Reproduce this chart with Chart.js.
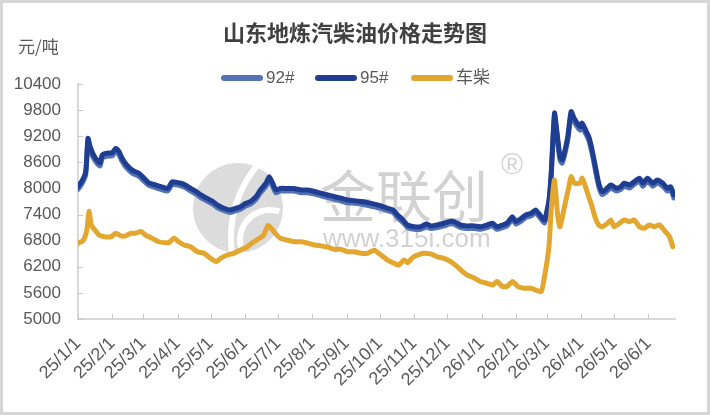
<!DOCTYPE html>
<html><head><meta charset="utf-8">
<script src="https://cdn.jsdelivr.net/npm/chart.js@4"></script>
<style>html,body{margin:0;padding:0;background:#fff;overflow:hidden}#wrap{width:710px;height:415px;position:relative}</style>
</head><body><div id="wrap"><canvas id="c" width="710" height="415"></canvas></div>
<script>
const chartTitle = '山东地炼汽柴油价格走势图';
const unitLabel = '元/吨';
const seriesNames = ['92#', '95#', '车柴'];
const tickLabels = ['25/1/1','25/2/1','25/3/1','25/4/1','25/5/1','25/6/1','25/7/1','25/8/1','25/9/1','25/10/1','25/11/1','25/12/1','26/1/1','26/2/1','26/3/1','26/4/1','26/5/1','26/6/1'];
const yTicks = [5000, 5600, 6200, 6800, 7400, 8000, 8600, 9200, 9800, 10400];

// day offsets from 2025-01-01
const gasDays = [0,4,7,9,11,14,18,20,22,26,31,34,37,40,44,49,55,60,64,70,75,81,85,87,93,97,102,107,111,117,122,126,132,138,143,147,152,156,161,165,170,173,176,179,183,189,195,202,208,214,220,226,232,238,244,250,256,262,268,274,280,285,289,294,298,304,310,315,319,325,331,336,340,346,352,358,364,370,375,379,384,388,393,396,401,405,410,414,419,422,426,428,431,433,436,438,443,446,449,454,456,459,462,465,468,471,474,477,482,487,491,494,499,503,508,511,515,520,524,529,533,536,539];
const gas95 = [8040,8190,8390,9150,8960,8770,8620,8590,8770,8810,8820,8920,8850,8690,8540,8420,8350,8230,8130,8080,8040,8000,8150,8150,8120,8080,8000,7930,7850,7770,7700,7620,7545,7505,7545,7580,7660,7700,7810,7965,8120,8270,8120,7965,8000,8000,8000,7965,7965,7930,7890,7850,7810,7775,7735,7720,7700,7675,7640,7600,7545,7505,7390,7275,7160,7120,7120,7185,7140,7160,7200,7240,7240,7160,7140,7140,7120,7160,7200,7120,7160,7200,7350,7240,7315,7390,7430,7505,7350,7275,7735,8350,9730,9345,8730,8655,9190,9765,9600,9420,9500,9345,9190,8885,8500,8120,7930,7965,8080,8005,8040,8120,8080,8155,8235,8120,8235,8120,8195,8120,8005,8040,7850];
const gas92 = [7980,8130,8320,9060,8880,8700,8550,8520,8700,8740,8750,8850,8780,8620,8470,8350,8280,8160,8070,8020,7980,7940,8090,8090,8060,8020,7940,7870,7790,7710,7640,7560,7490,7450,7490,7520,7600,7640,7750,7900,8050,8190,8050,7900,7940,7940,7940,7900,7900,7870,7830,7790,7750,7710,7670,7660,7640,7610,7580,7540,7490,7450,7330,7220,7100,7060,7060,7120,7080,7100,7140,7180,7180,7100,7080,7080,7060,7100,7140,7060,7100,7140,7290,7180,7250,7330,7370,7440,7290,7210,7660,8270,9640,9260,8650,8580,9110,9680,9520,9340,9420,9270,9110,8810,8420,8050,7860,7900,8010,7940,7980,8050,8010,8090,8170,8050,8170,8050,8130,8050,7940,7980,7780];
const dieselDays = [0,5,8,10,12,14,19,24,30,34,39,43,48,52,57,61,67,73,78,82,87,91,96,102,108,114,120,125,129,135,141,147,153,159,164,168,172,176,179,183,189,195,202,208,214,220,226,232,238,244,250,256,262,268,274,280,286,290,295,298,303,307,313,319,325,331,337,343,348,352,358,364,370,375,379,384,388,393,398,404,410,414,419,422,426,428,431,434,436,440,444,446,449,454,456,459,462,465,468,471,474,479,482,485,490,494,499,503,508,512,517,521,526,530,535,538];
const diesel = [6740,6815,7045,7470,7160,7085,6930,6890,6890,6970,6910,6910,6970,6970,7010,6930,6855,6775,6755,6755,6855,6775,6700,6660,6545,6510,6395,6320,6395,6470,6510,6585,6660,6775,6855,6930,7150,7045,6950,6855,6815,6775,6775,6740,6700,6680,6650,6600,6600,6545,6545,6510,6510,6580,6470,6355,6280,6240,6355,6295,6420,6470,6510,6495,6430,6395,6320,6205,6090,6010,5950,5860,5820,5780,5860,5745,5745,5860,5745,5705,5705,5665,5630,5975,6660,7505,8195,7350,7120,7580,8040,8270,8120,8120,8235,8040,7810,7580,7315,7160,7120,7200,7275,7120,7200,7275,7235,7275,7120,7085,7160,7120,7160,7045,6890,6660];

const colors = ['#5473b3', '#1f3e92', '#e3a72f'];
const TXT = '#595959';
const FONT = "'Liberation Sans', 'Noto Sans CJK SC', sans-serif";

function dayOf(label) {
  const p = label.split('/').map(Number);
  return Math.round((Date.UTC(2000 + p[0], p[1] - 1, p[2]) - Date.UTC(2025, 0, 1)) / 86400000);
}
const tickDays = tickLabels.map(dayOf);
const pts = (xs, ys) => xs.map((x, i) => ({x: x, y: ys[i]}));

const decor = {
  id: 'decor',
  beforeDraw(chart) {
    const ctx = chart.ctx;
    ctx.save();
    ctx.fillStyle = '#fff';
    ctx.fillRect(0, 0, chart.width, chart.height);
    ctx.restore();
  },
  beforeDatasetsDraw(chart) {
    const ctx = chart.ctx;
    ctx.save();
    // watermark logo
    ctx.fillStyle = '#dcdcdc';
    ctx.beginPath(); ctx.arc(238, 208, 45, 0, Math.PI * 2); ctx.fill();
    ctx.strokeStyle = '#fff'; ctx.lineWidth = 6;
    ctx.beginPath(); ctx.moveTo(262, 160); ctx.quadraticCurveTo(225, 200, 232, 256); ctx.stroke();
    ctx.beginPath(); ctx.arc(270, 240, 30, Math.PI * 0.9, Math.PI * 1.6); ctx.stroke();
    ctx.fillStyle = '#d2d2d2';
    ctx.font = "56px 'Noto Sans CJK SC'";
    ctx.textBaseline = 'middle'; ctx.textAlign = 'left';
    ctx.fillText('金联创', 320, 196);
    ctx.font = "30px 'Liberation Sans'";
    ctx.fillText('®', 501, 166);
    ctx.font = "26px 'Liberation Sans'";
    ctx.fillText('www.315i.com', 323, 240);
    // inside tick marks
    const xs = chart.scales.x, ys = chart.scales.y, ca = chart.chartArea;
    ctx.strokeStyle = '#c8c8c8'; ctx.lineWidth = 1;
    ys.ticks.forEach((t, i) => {
      const y = Math.round(ys.getPixelForTick(i)) + 0.5;
      ctx.beginPath(); ctx.moveTo(ca.left, y); ctx.lineTo(ca.left + 5, y); ctx.stroke();
    });
    xs.ticks.forEach((t, i) => {
      const x = Math.round(xs.getPixelForTick(i)) + 0.5;
      ctx.beginPath(); ctx.moveTo(x, ca.bottom); ctx.lineTo(x, ca.bottom - 5); ctx.stroke();
    });
    ctx.restore();
  },
  afterDraw(chart) {
    const ctx = chart.ctx;
    ctx.save();
    ctx.fillStyle = '#404040';
    ctx.font = "bold 22px 'Noto Sans CJK SC'";
    ctx.textAlign = 'center'; ctx.textBaseline = 'middle';
    ctx.fillText(chartTitle, 355, 33);
    ctx.fillStyle = TXT;
    ctx.font = "17px 'Noto Sans CJK SC'";
    ctx.textAlign = 'left';
    ctx.fillText(unitLabel, 18, 47);
    // legend
    const legendX = [221, 315, 411];
    ctx.font = "17px " + FONT;
    chart.data.datasets.forEach((ds, i) => {
      const x = legendX[i], y = 78;
      ctx.strokeStyle = ds.borderColor; ctx.lineWidth = 6; ctx.lineCap = 'round';
      ctx.beginPath(); ctx.moveTo(x + 3, y); ctx.lineTo(x + 39, y); ctx.stroke();
      ctx.fillStyle = TXT;
      ctx.fillText(ds.label, x + 45, y);
    });
    // frame
    ctx.strokeStyle = '#d6d6d6'; ctx.lineWidth = 3;
    ctx.strokeRect(1.5, 1.5, chart.width - 3, chart.height - 3);
    ctx.restore();
  }
};

new Chart(document.getElementById('c'), {
  type: 'line',
  data: {
    datasets: [
      {label: seriesNames[0], data: pts(gasDays, gas92), borderColor: colors[0], backgroundColor: colors[0], order: 3},
      {label: seriesNames[1], data: pts(gasDays, gas95), borderColor: colors[1], backgroundColor: colors[1], order: 2},
      {label: seriesNames[2], data: pts(dieselDays, diesel), borderColor: colors[2], backgroundColor: colors[2], order: 1}
    ]
  },
  options: {
    responsive: false,
    animation: false,
    devicePixelRatio: 1,
    layout: {padding: {top: 84, right: 35, bottom: 0, left: 0}},
    elements: {point: {radius: 0}, line: {borderWidth: 5, tension: 0.2, borderCapStyle: 'round', borderJoinStyle: 'round'}},
    plugins: {legend: {display: false}, title: {display: false}, tooltip: {enabled: false}},
    scales: {
      x: {
        type: 'linear', min: 0, max: 540,
        afterBuildTicks: s => { s.ticks = tickDays.map(v => ({value: v})); },
        afterFit: s => { s.height = 96; },
        ticks: {autoSkip: false, minRotation: 45, maxRotation: 45, padding: 14, color: TXT, font: {size: 18, family: FONT},
          callback: (v, i) => tickLabels[i]},
        grid: {display: true, drawOnChartArea: false, drawTicks: false},
        border: {display: true, color: '#d9d9d9', width: 2}
      },
      y: {
        min: 5000, max: 10400,
        afterBuildTicks: s => { s.ticks = yTicks.map(v => ({value: v})); },
        afterFit: s => { s.width = 78; },
        ticks: {padding: 17, color: TXT, font: {size: 17, family: FONT}, callback: v => String(v)},
        grid: {display: true, drawOnChartArea: false, drawTicks: false},
        border: {display: true, color: '#d9d9d9', width: 2}
      }
    }
  },
  plugins: [decor]
});
</script></body></html>
